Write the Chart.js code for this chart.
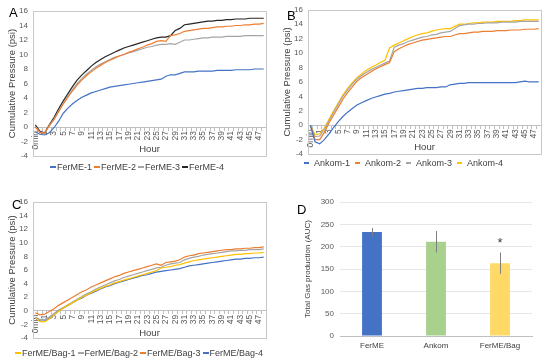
<!DOCTYPE html>
<html>
<head>
<meta charset="utf-8">
<script src="https://cdn.jsdelivr.net/npm/chart.js@4/dist/chart.umd.min.js"></script>
<style>
  body { margin: 0; background: #fff; }
  #fig { position: relative; width: 550px; height: 362px; overflow: hidden; font-family: "Liberation Sans", Arial, sans-serif; }
  canvas { position: absolute; }
  .letter { position: absolute; font-size: 13px; line-height: 13px; color: #000; }
  .legend { position: absolute; display: flex; align-items: center; font-size: 9px; line-height: 10px; height: 10px; color: #404040; white-space: nowrap; }
  .legend .item { display: flex; align-items: center; }
  .legend .swatch { display: inline-block; height: 1.5px; }
</style>
</head>
<body>
<div id="fig">
  <canvas id="chartA" width="275" height="181" style="left:0;top:0"></canvas>
  <canvas id="chartB" width="275" height="181" style="left:275px;top:0"></canvas>
  <canvas id="chartC" width="275" height="181" style="left:0;top:181px"></canvas>
  <canvas id="chartD" width="260" height="181" style="left:290px;top:181px"></canvas>
  <div class="letter" style="left:9px;top:6px">A</div>
  <div class="letter" style="left:287px;top:9px">B</div>
  <div class="letter" style="left:12px;top:198px">C</div>
  <div class="letter" style="left:297px;top:203px">D</div>
  <div class="legend" id="legendA" style="left:50px;top:162px"></div>
  <div class="legend" id="legendB" style="left:304px;top:158px"></div>
  <div class="legend" id="legendC" style="left:15px;top:348px"></div>
</div>
<script>
// hours sampled (second point is hidden on the axis)
const hourLabels = ['0min', '30min', '1', '2', '3', '4', '5', '6', '7', '8', '9', '10',
  '11', '12', '13', '14', '15', '16', '17', '18', '19', '20', '21', '22', '23', '24',
  '25', '26', '27', '28', '29', '30', '31', '32', '33', '34', '35', '36', '37', '38',
  '39', '40', '41', '42', '43', '44', '45', '46', '47', '48'];

// Panel A - FerME
const fermeNames = ['FerME-1', 'FerME-2', 'FerME-3', 'FerME-4'];
const ferme1 = [-0.7, -1.0, -1.1, -0.8, -0.1, 0.8, 1.9, 2.6, 3.2, 3.7, 4.1, 4.4, 4.7, 4.9, 5.1, 5.3, 5.5, 5.6, 5.7, 5.8, 5.9, 6.0, 6.1, 6.2, 6.3, 6.4, 6.5, 6.6, 7.0, 7.2, 7.2, 7.4, 7.6, 7.6, 7.6, 7.7, 7.7, 7.7, 7.7, 7.8, 7.8, 7.8, 7.8, 7.9, 7.9, 7.9, 7.9, 8.0, 8.0, 8.0];
const ferme2 = [0.0, -0.8, -0.8, 0.2, 1.0, 2.1, 3.2, 4.1, 5.0, 5.8, 6.5, 7.1, 7.6, 8.1, 8.5, 8.9, 9.2, 9.5, 9.8, 10.0, 10.3, 10.5, 10.8, 11.0, 11.3, 11.5, 11.8, 11.9, 11.8, 12.6, 12.7, 12.9, 13.2, 13.3, 13.4, 13.5, 13.6, 13.6, 13.7, 13.8, 13.8, 13.9, 13.9, 14.0, 14.0, 14.1, 14.1, 14.2, 14.2, 14.3];
const ferme3 = [0.1, -0.7, -0.9, 0.2, 1.1, 2.2, 3.3, 4.3, 5.2, 6.0, 6.7, 7.3, 7.8, 8.3, 8.7, 9.0, 9.3, 9.6, 9.8, 10.0, 10.2, 10.4, 10.6, 10.8, 11.0, 11.1, 11.3, 11.4, 11.4, 11.5, 11.4, 11.7, 12.0, 12.0, 12.1, 12.2, 12.3, 12.3, 12.4, 12.4, 12.4, 12.5, 12.5, 12.5, 12.5, 12.6, 12.6, 12.6, 12.6, 12.6];
const ferme4 = [0.3, -0.6, -0.8, 0.3, 1.3, 2.5, 3.6, 4.6, 5.6, 6.5, 7.2, 7.8, 8.4, 8.9, 9.3, 9.7, 10.0, 10.3, 10.6, 10.9, 11.1, 11.3, 11.5, 11.7, 11.9, 12.1, 12.3, 12.4, 12.4, 12.6, 13.3, 13.6, 14.1, 14.2, 14.3, 14.4, 14.5, 14.6, 14.6, 14.7, 14.7, 14.8, 14.8, 14.9, 14.9, 14.9, 15.0, 15.0, 15.0, 15.0];
const fermeColors = ['#4472C4', '#ED7D31', '#A5A5A5', '#262626'];

// Panel B - Ankom
const ankomNames = ['Ankom-1', 'Ankom-2', 'Ankom-3', 'Ankom-4'];
const ankom1 = [0.0, -2.3, -2.6, -2.0, -1.2, -0.3, 0.5, 1.2, 1.8, 2.3, 2.8, 3.1, 3.4, 3.7, 3.9, 4.1, 4.3, 4.4, 4.6, 4.7, 4.8, 4.9, 5.0, 5.1, 5.1, 5.2, 5.2, 5.2, 5.3, 5.3, 5.6, 5.7, 5.8, 5.8, 5.9, 5.9, 5.9, 5.9, 5.9, 5.9, 5.9, 5.9, 5.9, 5.9, 5.9, 6.0, 6.1, 6.0, 6.0, 6.0];
const ankom2 = [0.0, -2.0, -2.0, -1.0, 0.3, 1.4, 2.5, 3.6, 4.5, 5.3, 6.1, 6.6, 7.0, 7.4, 7.8, 8.1, 8.4, 8.7, 10.2, 10.6, 10.9, 11.2, 11.4, 11.6, 11.8, 11.9, 12.0, 12.1, 12.2, 12.3, 12.3, 12.5, 12.7, 12.7, 12.8, 12.9, 12.9, 13.0, 13.0, 13.0, 13.1, 13.1, 13.1, 13.2, 13.2, 13.2, 13.3, 13.3, 13.3, 13.4];
const ankom3 = [0.0, -1.6, -1.5, -0.6, 0.6, 1.8, 2.9, 4.0, 4.9, 5.7, 6.4, 6.9, 7.3, 7.7, 8.0, 8.3, 8.6, 8.9, 10.8, 11.1, 11.3, 11.6, 11.8, 12.0, 12.2, 12.3, 12.5, 12.6, 12.8, 12.9, 13.0, 13.4, 13.8, 13.9, 14.0, 14.0, 14.1, 14.1, 14.2, 14.2, 14.2, 14.3, 14.3, 14.3, 14.3, 14.4, 14.4, 14.4, 14.4, 14.4];
const ankom4 = [0.0, -1.3, -1.2, -0.4, 0.8, 2.0, 3.1, 4.2, 5.1, 5.9, 6.6, 7.1, 7.6, 8.0, 8.3, 8.7, 9.0, 10.7, 11.1, 11.4, 11.7, 12.0, 12.3, 12.5, 12.7, 12.8, 13.0, 13.2, 13.3, 13.4, 13.4, 13.7, 14.0, 14.0, 14.1, 14.2, 14.2, 14.3, 14.3, 14.3, 14.4, 14.4, 14.4, 14.4, 14.5, 14.5, 14.6, 14.6, 14.6, 14.6];
const ankomColors = ['#4472C4', '#ED7D31', '#A5A5A5', '#FFC000'];

// Panel C - FerME/Bag
const bagNames = ['FerME/Bag-1', 'FerME/Bag-2', 'FerME/Bag-3', 'FerME/Bag-4'];
const bag1 = [-1.0, -1.6, -1.6, -1.2, -0.6, -0.1, 0.4, 0.8, 1.2, 1.6, 2.0, 2.3, 2.7, 3.0, 3.3, 3.6, 3.8, 4.1, 4.3, 4.5, 4.7, 4.9, 5.1, 5.3, 5.5, 5.7, 5.9, 6.3, 6.4, 6.5, 6.7, 6.8, 7.0, 7.2, 7.4, 7.5, 7.6, 7.7, 7.8, 7.9, 8.0, 8.1, 8.2, 8.3, 8.3, 8.4, 8.4, 8.5, 8.5, 8.6];
const bag2 = [-0.9, -1.3, -1.3, -0.9, -0.4, 0.1, 0.5, 0.9, 1.3, 1.7, 2.1, 2.5, 2.8, 3.2, 3.5, 3.8, 4.1, 4.4, 4.6, 4.9, 5.1, 5.3, 5.5, 5.7, 5.9, 6.1, 6.3, 6.4, 6.7, 6.9, 7.0, 7.1, 7.5, 7.7, 7.9, 8.0, 8.2, 8.3, 8.4, 8.5, 8.6, 8.7, 8.8, 8.8, 8.9, 8.9, 9.0, 9.0, 9.0, 9.1];
const bag3 = [-0.3, -0.6, -0.5, -0.1, 0.3, 0.8, 1.2, 1.6, 2.0, 2.4, 2.8, 3.1, 3.5, 3.8, 4.1, 4.4, 4.7, 5.0, 5.2, 5.5, 5.7, 5.9, 6.1, 6.3, 6.5, 6.7, 6.9, 6.7, 7.1, 7.2, 7.3, 7.5, 7.9, 8.1, 8.2, 8.4, 8.5, 8.6, 8.7, 8.8, 8.9, 9.0, 9.0, 9.1, 9.1, 9.2, 9.2, 9.3, 9.3, 9.4];
const bag4 = [-1.1, -1.5, -1.5, -1.1, -0.6, 0.0, 0.4, 0.8, 1.2, 1.6, 1.9, 2.3, 2.6, 2.9, 3.2, 3.5, 3.7, 4.0, 4.2, 4.4, 4.6, 4.8, 5.0, 5.2, 5.3, 5.5, 5.7, 5.8, 5.9, 6.0, 6.1, 6.2, 6.4, 6.6, 6.7, 6.8, 6.9, 7.0, 7.1, 7.2, 7.3, 7.4, 7.5, 7.6, 7.6, 7.7, 7.7, 7.8, 7.8, 7.9];
const bagColors = ['#FFC000', '#A5A5A5', '#ED7D31', '#4472C4'];

// Panel D - total gas production
const aucCategories = ['FerME', 'Ankom', 'FerME/Bag'];
const aucMeans = [233, 211, 163];
const aucErrors = [9, 24, 24];
const aucMarks = ['', '', '*'];
const aucColors = ['#4472C4', '#A9D18E', '#FFD966'];

Chart.defaults.font.family = '"Liberation Sans", Arial, sans-serif';
Chart.defaults.color = '#595959';

// grey frame around the plot area (Excel style)
const plotBox = {
  id: 'plotBox',
  beforeDatasetsDraw(chart) {
    const { ctx, chartArea: a } = chart;
    ctx.save();
    ctx.strokeStyle = '#c8c8c8';
    ctx.lineWidth = 1;
    ctx.strokeRect(Math.round(a.left) + 0.5, Math.round(a.top) + 0.5,
      Math.round(a.right - a.left), Math.round(a.bottom - a.top));
    ctx.restore();
  }
};

// error bars + significance mark for the bar chart
const errorBars = {
  id: 'errorBars',
  afterDatasetsDraw(chart) {
    const { ctx, scales: { y } } = chart;
    const meta = chart.getDatasetMeta(0);
    ctx.save();
    meta.data.forEach((bar, i) => {
      const top = y.getPixelForValue(aucMeans[i] + aucErrors[i]);
      const bottom = y.getPixelForValue(aucMeans[i] - aucErrors[i]);
      const x = Math.round(bar.x) + 0.5;
      ctx.strokeStyle = '#7f7f7f';
      ctx.lineWidth = 1;
      ctx.beginPath();
      ctx.moveTo(x, top);
      ctx.lineTo(x, bottom);
      ctx.stroke();
      if (aucMarks[i]) {
        ctx.fillStyle = '#404040';
        ctx.font = '13px "Liberation Sans", Arial, sans-serif';
        ctx.textAlign = 'center';
        ctx.textBaseline = 'alphabetic';
        ctx.fillText(aucMarks[i], bar.x, top - 5);
      }
    });
    ctx.restore();
  }
};

function makeLineChart(id, names, series, colors, pad) {
  return new Chart(document.getElementById(id), {
    type: 'line',
    data: {
      labels: hourLabels,
      datasets: names.map((name, i) => ({
        label: name,
        data: series[i],
        borderColor: colors[i],
        borderWidth: 1.2,
        pointRadius: 0,
        fill: false,
        tension: 0
      }))
    },
    options: {
      responsive: false,
      animation: false,
      layout: { padding: pad },
      plugins: { legend: { display: false }, tooltip: { enabled: false } },
      scales: {
        x: {
          position: { y: 0 },
          offset: true,
          grid: { drawOnChartArea: false, offset: true, tickLength: 3, color: '#bfbfbf' },
          border: { color: '#bfbfbf' },
          ticks: {
            autoSkip: false, minRotation: 90, maxRotation: 90, padding: 1,
            font: { size: 8.5 },
            callback: (v, i) => (i % 2 === 0 ? hourLabels[i] : '')
          },
          title: { display: true, text: 'Hour', font: { size: 9.5 }, color: '#404040', padding: { top: -6.5, bottom: 0 } }
        },
        y: {
          min: -4,
          max: 16,
          ticks: { stepSize: 2, autoSkip: false, padding: 5, font: { size: 8 } },
          grid: { display: false, drawTicks: false },
          border: { display: false },
          title: { display: true, text: 'Cumulative Pressure (psi)', font: { size: 9.5 }, color: '#404040', padding: { top: 7, bottom: 0 } },
          afterFit: s => { s.width = 33; }
        }
      }
    },
    plugins: [plotBox]
  });
}

function buildLegend(id, names, colors, lineW, textGap, itemGap) {
  const box = document.getElementById(id);
  names.forEach((name, i) => {
    const item = document.createElement('span');
    item.className = 'item';
    item.style.marginRight = itemGap + 'px';
    const sw = document.createElement('span');
    sw.className = 'swatch';
    sw.style.width = lineW + 'px';
    sw.style.background = colors[i];
    sw.style.marginRight = textGap + 'px';
    item.appendChild(sw);
    item.appendChild(document.createTextNode(name));
    box.appendChild(item);
  });
}

makeLineChart('chartA', fermeNames, [ferme1, ferme2, ferme3, ferme4], fermeColors,
  { top: 11, right: 5, bottom: 25, left: 0 });
makeLineChart('chartB', ankomNames, [ankom1, ankom2, ankom3, ankom4], ankomColors,
  { top: 9, right: 7, bottom: 27, left: 0 });
makeLineChart('chartC', bagNames, [bag1, bag2, bag3, bag4], bagColors,
  { top: 21, right: 8, bottom: 24, left: 0 });

buildLegend('legendA', fermeNames, fermeColors, 6, 1, 2);
buildLegend('legendB', ankomNames, ankomColors, 5, 5, 5);
buildLegend('legendC', bagNames, bagColors, 6, 1, 2);

new Chart(document.getElementById('chartD'), {
  type: 'bar',
  data: {
    labels: aucCategories,
    datasets: [{
      data: aucMeans,
      backgroundColor: aucColors,
      barPercentage: 0.31,
      categoryPercentage: 1
    }]
  },
  options: {
    responsive: false,
    animation: false,
    layout: { padding: { top: 21, right: 18, bottom: 6, left: 0 } },
    plugins: { legend: { display: false }, tooltip: { enabled: false } },
    scales: {
      x: {
        grid: { display: false, drawTicks: false },
        border: { color: '#bfbfbf' },
        ticks: { font: { size: 8 }, color: '#404040', padding: 5 },
        afterFit: s => { s.height = 20; }
      },
      y: {
        min: 0,
        max: 300,
        ticks: { stepSize: 50, font: { size: 8 }, padding: 6 },
        grid: { color: '#e6e6e6', drawTicks: false },
        border: { display: false },
        title: { display: true, text: 'Total Gas production (AUC)', font: { size: 8 }, color: '#404040', padding: { top: 13, bottom: 0 } },
        afterFit: s => { s.width = 50; }
      }
    }
  },
  plugins: [errorBars]
});
</script>
</body>
</html>
